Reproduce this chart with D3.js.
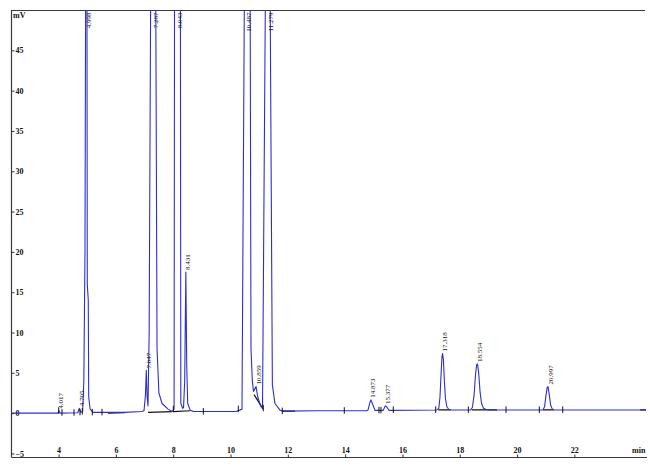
<!DOCTYPE html>
<html><head><meta charset="utf-8">
<script src="https://cdn.jsdelivr.net/npm/d3@7"></script>
<style>
html,body{margin:0;padding:0;background:#fff;}
svg{display:block;}
text{font-family:"Liberation Serif","Times New Roman",serif;}
</style></head><body>
<svg id="chart" width="650" height="467"></svg>
<script>
// ---------- data ----------
const xTickValues = [4, 6, 8, 10, 12, 14, 16, 18, 20, 22];
const yTickValues = [-5, 0, 5, 10, 15, 20, 25, 30, 35, 40, 45];
const xUnit = "min";
const yUnit = "mV";

// detector signal [time (min), mV]
const signal = [
  [2.373, 0.0], [3.98, 0.0], [4.01, 0.3], [4.05, 0.0],
  [4.67, 0.05], [4.72, 0.6], [4.77, 0.1], [4.84, 0.2],
  [4.88, 4.0], [4.92, 20], [4.975, 100], [5.0, 16], [5.035, 14],
  [5.05, 2.0], [5.10, 0.5], [5.20, 0.1], [6.30, 0.1], [6.90, 0.2],
  [6.98, 0.3], [7.03, 2.2], [7.06, 5.3], [7.09, 2.0], [7.12, 0.9],
  [7.16, 10], [7.31, 130], [7.435, 8], [7.50, 2.5], [7.61, 1.2],
  [7.82, 0.5], [7.96, 0.2], [8.03, 0.5], [8.149, 400], [8.265, 1.2],
  [8.33, 0.6], [8.36, 0.7], [8.40, 4.0], [8.44, 17.5], [8.47, 6.0],
  [8.505, 1.2], [8.59, 0.4], [8.70, 0.2], [10.20, 0.2], [10.40, 0.5],
  [10.574, 108], [10.686, 50], [10.714, 8], [10.76, 4.0], [10.80, 2.7],
  [10.89, 3.3], [10.95, 2.0], [11.05, 0.9], [11.116, 0.6], [11.308, 98],
  [11.46, 3.5], [11.55, 1.2], [11.72, 0.4], [11.83, 0.25], [13.0, 0.3],
  [14.75, 0.3], [14.80, 0.4], [14.87, 1.4], [14.90, 1.65], [14.95, 1.2],
  [15.04, 0.35], [15.33, 0.35], [15.40, 0.9], [15.45, 0.8], [15.53, 0.35],
  [17.20, 0.4], [17.27, 0.6], [17.31, 2.0], [17.35, 5.0], [17.38, 7.0],
  [17.40, 7.4], [17.43, 6.6], [17.46, 4.2], [17.50, 1.8], [17.55, 0.8],
  [17.62, 0.45], [17.70, 0.4], [18.38, 0.4], [18.44, 0.7], [18.50, 2.2],
  [18.55, 4.8], [18.59, 6.0], [18.62, 6.1], [18.66, 5.0], [18.71, 2.6],
  [18.76, 1.2], [18.83, 0.6], [18.92, 0.45], [19.05, 0.4], [20.90, 0.4],
  [20.96, 0.8], [21.01, 2.2], [21.05, 3.2], [21.08, 3.3], [21.12, 2.4],
  [21.17, 1.0], [21.23, 0.5], [21.30, 0.4], [24.5, 0.4]
];

// peak labels (retention times) with apex position
const peakLabels = ["4.017", "4.705", "4.998", "7.047", "7.287", "8.043", "8.431",
  "10.487", "10.859", "11.279", "14.873", "15.377", "17.318", "18.554", "20.997"];
const peakTimes = [4.01, 4.72, 4.975, 7.06, 7.31, 8.149, 8.44,
  10.574, 10.89, 11.308, 14.90, 15.40, 17.40, 18.62, 21.08];
const peakHeights = [0.3, 0.6, 100, 5.3, 130, 400, 17.5,
  108, 3.3, 98, 1.65, 0.9, 7.4, 6.1, 3.3];

// integration event markers (min)
const markerTimes = [4.003, 4.118, 4.537, 4.746, 4.826, 5.175, 5.514, 8.003, 9.05,
  10.271, 11.143, 11.806, 13.97, 15.18, 15.25, 15.68, 17.16, 18.30, 19.615,
  20.777, 21.594];
// integration baselines [t0, mV0, t1, mV1]
const integrationBaselines = [
  [5.72, 0.0, 6.31, 0.05], [7.12, 0.1, 7.96, 0.2], [8.0, 0.2, 8.60, 0.3],
  [10.82, 2.3, 11.14, 0.5], [11.81, 0.25, 12.25, 0.25],
  [17.25, 0.4, 17.68, 0.4], [18.42, 0.4, 19.30, 0.4],
  [20.91, 0.4, 21.28, 0.4], [24.30, 0.4, 24.5, 0.4]
];

// ---------- drawing ----------
const svg = d3.select("#chart");
const L = 12, R = 646, T = 10, B = 457.5;
const x = d3.scaleLinear().domain([2.373, 24.5]).range([L, R]);
const y = d3.scaleLinear().domain([-5.5, 50]).range([B, T]);

svg.append("defs").append("clipPath").attr("id", "plotclip")
  .append("rect").attr("x", L).attr("y", T).attr("width", R - L).attr("height", B - T);

// frame
const frame = svg.append("g").attr("stroke", "#3a3a3a").attr("stroke-width", 1.2).attr("fill", "none");
frame.append("line").attr("x1", L - 0.5).attr("x2", L - 0.5).attr("y1", T).attr("y2", B);
frame.append("line").attr("x1", L - 0.5).attr("x2", 645).attr("y1", T + 0.5).attr("y2", T + 0.5);
frame.append("line").attr("x1", L - 0.5).attr("x2", R + 1).attr("y1", B).attr("y2", B);

// y axis (ticks inside)
const yAxis = d3.axisRight(y).tickValues(yTickValues).tickSize(3).tickPadding(1)
  .tickFormat(d3.format("d"));
const gy = svg.append("g").attr("transform", `translate(${L - 0.5},0)`).call(yAxis);
gy.select(".domain").remove();
gy.selectAll(".tick line").attr("stroke", "#333");
gy.selectAll(".tick text").attr("font-size", 8).attr("fill", "#111")
  .attr("font-family", "Liberation Serif").attr("font-weight", "bold");

// x axis (ticks pointing up, labels above)
const xAxis = d3.axisTop(x).tickValues(xTickValues).tickSize(3).tickPadding(2)
  .tickFormat(d3.format("d"));
const gx = svg.append("g").attr("transform", `translate(0,${B})`).call(xAxis);
gx.select(".domain").remove();
gx.selectAll(".tick line").attr("stroke", "#333");
gx.selectAll(".tick text").attr("font-size", 8).attr("fill", "#111")
  .attr("font-family", "Liberation Serif").attr("font-weight", "bold");

svg.append("text").attr("x", 13).attr("y", 18).attr("font-size", 8).attr("font-weight", "bold")
  .attr("fill", "#111").text(yUnit);
svg.append("text").attr("x", 632).attr("y", 453).attr("font-size", 8).attr("font-weight", "bold")
  .attr("fill", "#111").text(xUnit);

const plot = svg.append("g").attr("clip-path", "url(#plotclip)");

// integration baselines
plot.append("g").selectAll("line").data(integrationBaselines).join("line")
  .attr("x1", d => x(d[0])).attr("y1", d => y(d[1]))
  .attr("x2", d => x(d[2])).attr("y2", d => y(d[3]))
  .attr("stroke", "#111").attr("stroke-width", 1.2);

// signal
const line = d3.line().x(d => x(d[0])).y(d => y(d[1]));
plot.append("path").datum(signal).attr("d", line)
  .attr("fill", "none").attr("stroke", "#2d2dd6").attr("stroke-width", 1.1)
  .attr("stroke-linejoin", "round");

// markers
const baseAt = t => {
  const i = d3.bisector(d => d[0]).left(signal, t);
  return signal[Math.max(0, Math.min(signal.length - 1, i))][1];
};
plot.append("g").selectAll("line").data(markerTimes).join("line")
  .attr("x1", d => x(d)).attr("x2", d => x(d))
  .attr("y1", d => y(Math.min(baseAt(d), 0.6)) - 3.5).attr("y2", d => y(Math.min(baseAt(d), 0.6)) + 3)
  .attr("stroke", "#111").attr("stroke-width", 1);

// peak labels
const lab = svg.append("g").attr("font-size", 7).attr("fill", "#111");
peakLabels.forEach((s, i) => {
  const px = x(peakTimes[i]) + 4.5;
  const top = peakHeights[i] > 50;
  const py = top ? T + 2.5 : y(peakHeights[i]) - 2;
  lab.append("text")
    .attr("transform", `translate(${px},${py}) rotate(-90)`)
    .attr("text-anchor", top ? "end" : "start")
    .text(s);
});
</script>
</body></html>
